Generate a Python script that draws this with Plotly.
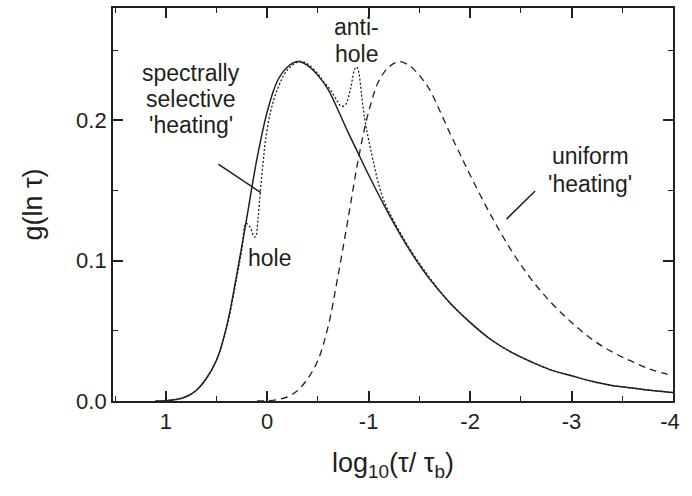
'''
    Distribution g(ln tau) with a spectrally selective and a uniform 'heating'.
'''

import plotly.graph_objects as go

# solid curve: original distribution
x_orig = [1.1, 1.0, 0.9, 0.8, 0.7, 0.6, 0.5, 0.4, 0.3, 0.2, 0.1, 0.0, -0.1, -0.2,
          -0.3, -0.4, -0.5, -0.6, -0.7, -0.8, -0.9, -1.0, -1.2, -1.4, -1.6, -1.8,
          -2.0, -2.2, -2.4, -2.6, -2.8, -3.0, -3.2, -3.4, -3.6, -3.8, -4.0]
g_orig = [0.0, 0.0002, 0.001, 0.003, 0.0075, 0.016, 0.029, 0.053, 0.090, 0.131,
          0.173, 0.206, 0.228, 0.238, 0.2418, 0.239, 0.232, 0.222, 0.207, 0.191,
          0.176, 0.161, 0.133, 0.108, 0.087, 0.070, 0.056, 0.044, 0.035, 0.028,
          0.022, 0.018, 0.014, 0.011, 0.0092, 0.0074, 0.006]

# dotted curve: after spectrally selective heating (hole + anti-hole)
x_sel = [1.1, 1.0, 0.9, 0.8, 0.7, 0.6, 0.5, 0.4, 0.3, 0.25, 0.21, 0.17, 0.13,
         0.115, 0.09, 0.067, 0.04, 0.018, -0.03, -0.095, -0.2, -0.32, -0.4, -0.5,
         -0.55, -0.62, -0.68, -0.73, -0.77, -0.82, -0.86, -0.88, -0.9, -0.93,
         -0.96, -1.0, -1.045, -1.1, -1.16, -1.25, -1.4, -1.6, -1.8, -2.0, -2.2,
         -2.4, -2.6, -2.8, -3.0, -3.2, -3.4, -3.6, -3.8, -4.0]
g_sel = [0.0, 0.0002, 0.001, 0.003, 0.0075, 0.016, 0.029, 0.052, 0.088, 0.108,
         0.1265, 0.124, 0.117, 0.117, 0.130, 0.150, 0.170, 0.185, 0.205, 0.221,
         0.236, 0.242, 0.240, 0.233, 0.228, 0.222, 0.215, 0.210, 0.211, 0.222,
         0.236, 0.238, 0.235, 0.218, 0.2016, 0.186, 0.171, 0.154, 0.141, 0.128,
         0.109, 0.088, 0.070, 0.056, 0.044, 0.035, 0.028, 0.022, 0.018, 0.014,
         0.011, 0.0092, 0.0074, 0.006]

# dashed curve: after uniform heating
x_unif = [0.1, 0.0, -0.1, -0.2, -0.3, -0.4, -0.5, -0.6, -0.7, -0.8, -0.9, -1.0,
          -1.1, -1.2, -1.3, -1.4, -1.5, -1.6, -1.7, -1.8, -1.9, -2.0, -2.2, -2.4,
          -2.6, -2.8, -3.0, -3.2, -3.4, -3.6, -3.8, -4.0]
g_unif = [0.0, 0.0002, 0.001, 0.003, 0.0075, 0.016, 0.029, 0.053, 0.090, 0.131,
          0.173, 0.206, 0.228, 0.238, 0.2418, 0.239, 0.232, 0.222, 0.207, 0.191,
          0.176, 0.161, 0.133, 0.108, 0.087, 0.070, 0.056, 0.044, 0.035, 0.028,
          0.022, 0.018]

x_tickvals = [1, 0, -1, -2, -3, -4]
x_ticktext = ['1', '0', '-1', '-2', '-3', '-4\u00a0']  # nbsp nudges -4 inside the page
y_tickvals = [0.0, 0.1, 0.2]
y_ticktext = ['0.0', '0.1', '0.2']

INK = '#231f20'
FONT = 'Liberation Sans, Arial, sans-serif'


def add_curves(fig):
    '''
        Adds the three distributions as lines.
    '''
    fig.add_trace(go.Scatter(x=x_orig, y=g_orig, mode='lines', line_shape='spline',
                             line=dict(color=INK, width=1.5)))
    fig.add_trace(go.Scatter(x=x_sel, y=g_sel, mode='lines', line_shape='spline',
                             line=dict(color=INK, width=1.3, dash='2px,2px')))
    fig.add_trace(go.Scatter(x=x_unif, y=g_unif, mode='lines', line_shape='spline',
                             line=dict(color=INK, width=1.3, dash='7px,5px')))
    return fig


def add_labels(fig):
    '''
        Adds the text labels (one annotation per line) and their leader lines.
    '''
    labels = [
        (0.755, 0.2340, 'spectrally'),
        (0.755, 0.2149, 'selective'),
        (0.755, 0.1965, "'heating'"),
        (-0.022, 0.1021, 'hole'),
        (-0.876, 0.2667, 'anti-'),
        (-0.876, 0.2475, 'hole'),
        (-3.183, 0.1745, 'uniform'),
        (-3.183, 0.1546, "'heating'"),
    ]
    for x, y, text in labels:
        fig.add_annotation(x=x, y=y, xref='x', yref='y', text=text, showarrow=False,
                           font=dict(size=23, color=INK, family=FONT))
    fig.add_shape(type='line', x0=0.482, y0=0.1688, x1=0.062, y1=0.1484,
                  line=dict(color=INK, width=1.5))
    fig.add_shape(type='line', x0=-2.641, y0=0.1496, x1=-2.359, y1=0.1296,
                  line=dict(color=INK, width=1.5))
    return fig


fig = go.Figure()
fig = add_curves(fig)
fig = add_labels(fig)

axis_style = dict(showline=True, linecolor=INK, linewidth=1.8, mirror='allticks',
                  ticks='inside', ticklen=10, tickwidth=1.6, tickcolor=INK,
                  showgrid=False, zeroline=False, ticklabeloverflow='allow',
                  tickfont=dict(size=22, color=INK, family=FONT))

fig.update_xaxes(range=[1.52, -4.0], tickvals=x_tickvals, ticktext=x_ticktext,
                 minor=dict(dtick=0.5, ticks='inside', ticklen=5, tickwidth=1.2,
                            tickcolor=INK, showgrid=False),
                 title=dict(text='log<sub>10</sub>(τ/ τ<sub>b</sub>)', standoff=20,
                            font=dict(size=27, color=INK, family=FONT)),
                 **axis_style)
fig.update_yaxes(range=[0, 0.28], tickvals=y_tickvals, ticktext=y_ticktext,
                 minor=dict(dtick=0.05, tick0=0, ticks='inside', ticklen=5,
                            tickwidth=1.2, tickcolor=INK, showgrid=False),
                 title=dict(text='g(ln τ)', standoff=26,
                            font=dict(size=27, color=INK, family=FONT)),
                 **axis_style)

fig.update_layout(width=692, height=496, showlegend=False,
                  margin=dict(l=113, r=10, t=6, b=95),
                  paper_bgcolor='white', plot_bgcolor='white',
                  font=dict(family=FONT, color=INK))

# the page body has a default 8px margin; drop it so the figure fills the window
fig.write_html('out.html', config={'displayModeBar': False},
               post_script="document.body.style.margin = '0px';")
